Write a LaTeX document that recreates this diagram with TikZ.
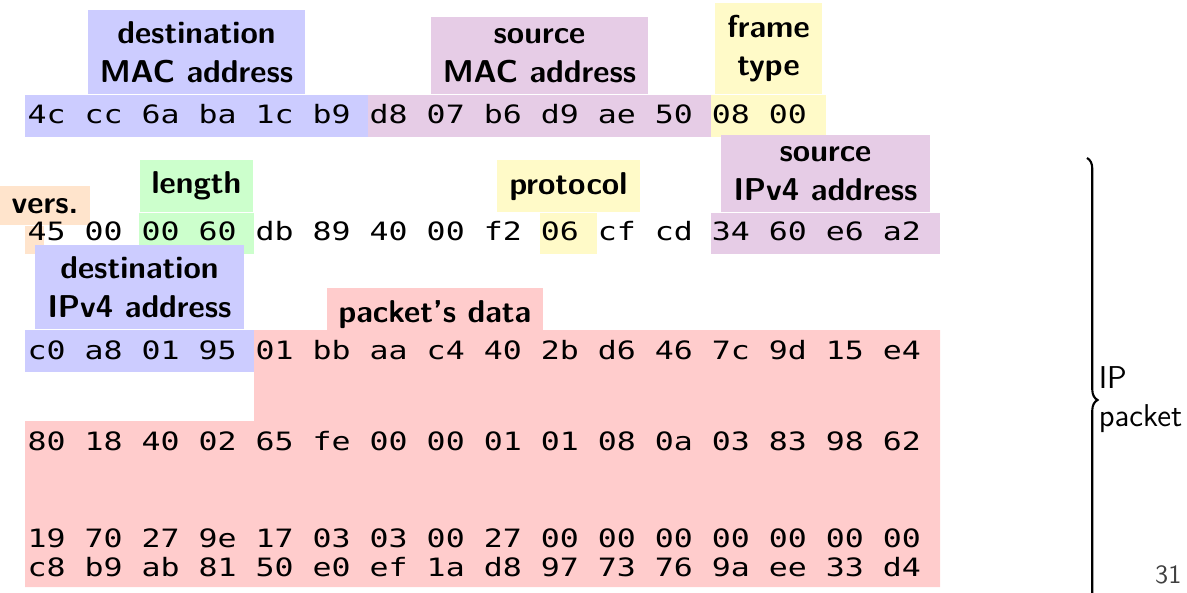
\documentclass[tikz,border=0pt]{standalone}
\usepackage{fontspec}
\newfontfamily\hexfont{DejaVu Sans Mono}[FakeStretch=1.25]
\usetikzlibrary{decorations.pathreplacing}

\definecolor{dstblue}{RGB}{204,204,255}
\definecolor{srcviolet}{RGB}{230,204,230}
\definecolor{typeyellow}{RGB}{255,250,200}
\definecolor{lengreen}{RGB}{204,255,204}
\definecolor{versorange}{RGB}{255,228,204}
\definecolor{datared}{RGB}{255,204,204}

\begin{document}
\begin{tikzpicture}[x=0.38pt,y=0.38pt,yscale=-1,xscale=1,
  hexbyte/.style={anchor=base west, inner sep=0pt, font=\hexfont\fontsize{9.6}{11}\selectfont},
  fieldlbl/.style={anchor=south, align=center, inner sep=4.6pt, font=\sffamily\bfseries\fontsize{12}{14.5}\selectfont}]

\clip (0,0) rectangle (1187,593);

% ethernet header
\fill [dstblue] (25,95) rectangle (368,137);
\fill [srcviolet] (368,95) rectangle (711,137);
\fill [typeyellow] (711,95) rectangle (826,137);
\node [fieldlbl, fill=dstblue] (dstmac) at (196.5,95) {destination\\MAC address};
\node [fieldlbl, fill=srcviolet] (srcmac) at (539.5,95) {source\\MAC address};
\node [fieldlbl, fill=typeyellow] (ftype) at (768.5,95) {frame\\type};

% ip header
\fill [versorange] (25,226) rectangle (44,254);
\fill [lengreen] (139,213) rectangle (254,254);
\fill [typeyellow] (540,213) rectangle (597,254);
\fill [srcviolet] (711,213) rectangle (940,254);
\node [fieldlbl, fill=versorange] (vers) at (45,226) {vers.};
\node [fieldlbl, fill=lengreen] (len) at (196.5,213) {length};
\node [fieldlbl, fill=typeyellow] (proto) at (568.5,213) {protocol};
\node [fieldlbl, fill=srcviolet] (srcip) at (825.5,213) {source\\IPv4 address};

\fill [dstblue] (25,330) rectangle (254,372);
\fill [datared] (254,330) -- (940,330) -- (940,587) -- (25,587) -- (25,421) -- (254,421) -- cycle;
\node [fieldlbl, fill=dstblue] (dstip) at (139.5,330) {destination\\IPv4 address};
\node [fieldlbl, fill=datared] (pdata) at (435,341) {packet's data};

% the bytes
\foreach \b [count=\i from 0] in {4c,cc,6a,ba,1c,b9,d8,07,b6,d9,ae,50,08,00}
  \node [hexbyte] (ra\i) at (27+57.03*\i,123) {\b};
\foreach \b [count=\i from 0] in {45,00,00,60,db,89,40,00,f2,06,cf,cd,34,60,e6,a2}
  \node [hexbyte] (rb\i) at (27+57.03*\i,240) {\b};
\foreach \b [count=\i from 0] in {c0,a8,01,95,01,bb,aa,c4,40,2b,d6,46,7c,9d,15,e4}
  \node [hexbyte] (rc\i) at (27+57.03*\i,359) {\b};
\foreach \b [count=\i from 0] in {80,18,40,02,65,fe,00,00,01,01,08,0a,03,83,98,62}
  \node [hexbyte] (rd\i) at (27+57.03*\i,450) {\b};
\foreach \b [count=\i from 0] in {19,70,27,9e,17,03,03,00,27,00,00,00,00,00,00,00}
  \node [hexbyte] (re\i) at (27+57.03*\i,547) {\b};
\foreach \b [count=\i from 0] in {c8,b9,ab,81,50,e0,ef,1a,d8,97,73,76,9a,ee,33,d4}
  \node [hexbyte] (rf\i) at (27+57.03*\i,576) {\b};

% brace round the ip packet
\coordinate (btop) at (1087,158);
\coordinate (bbot) at (1087,642);
\draw [decorate, decoration={brace, amplitude=4pt}, line width=0.8pt] (btop) -- (bbot);
\node [anchor=west, align=left, inner sep=2pt, font=\sffamily\fontsize{12}{14.5}\selectfont] (ippkt) at (1093,400) {IP\\packet};

\node [anchor=base east, inner sep=0pt, text=black!75, font=\sffamily\fontsize{10}{12}\selectfont] (pgno) at (1182,583) {31};

\end{tikzpicture}
\end{document}
